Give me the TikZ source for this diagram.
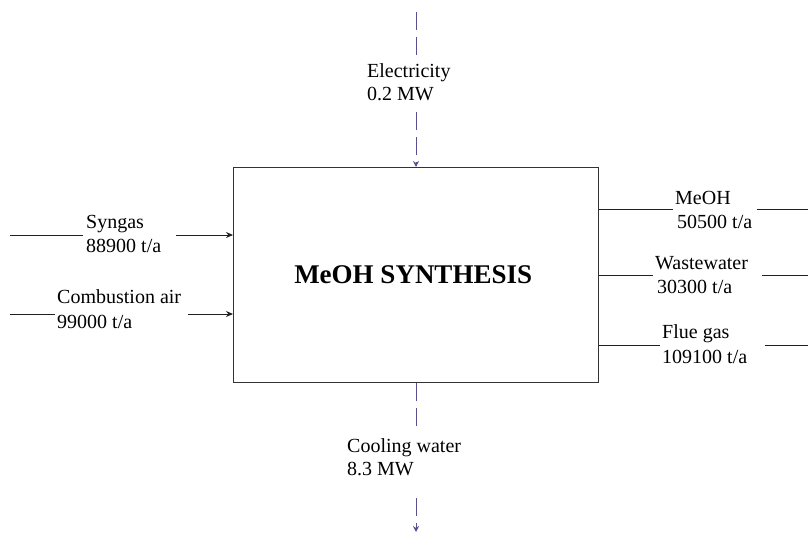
\documentclass[tikz,border=0pt]{standalone}
\usepackage{fontspec}
\setmainfont{Liberation Serif}
\usetikzlibrary{arrows.meta}
\definecolor{dashc}{HTML}{5B4E91}
\definecolor{linec}{HTML}{202020}
\definecolor{boxc}{HTML}{333333}
\tikzset{
  lab/.style={anchor=base west, inner sep=0pt, font=\fontsize{20}{24}\selectfont, text=black},
  flow/.style={draw=linec, line width=1pt},
  arr/.style={flow, -{Stealth[length=7pt,width=6pt]}},
  energy/.style={draw=dashc, line width=1pt, dash pattern=on 18pt off 7pt},
  earr/.style={energy, -{Stealth[length=6pt,width=6pt]}},
  procbox/.style={draw=boxc, line width=1.3pt, fill=white, inner sep=0pt, anchor=north west,
    minimum width=365pt, minimum height=215pt, font=\fontsize{27}{31}\selectfont\bfseries}
}
\begin{document}
\begin{tikzpicture}[x=1pt,y=-1pt]
\useasboundingbox[fill=white] (0,0) rectangle (808,533);
% process box
\node[procbox] (box) at (233,167) {MeOH SYNTHESIS\hspace*{6pt}};
% labels
\node[lab] (syn) at (86,228) {Syngas};
\node[lab] (syn2) at (86,252) {88900 t/a};
\node[lab] (comb) at (57,303) {Combustion air};
\node[lab] (comb2) at (57,328) {99000 t/a};
\node[lab] (meoh) at (675,204) {MeOH};
\node[lab] (meoh2) at (677,228) {50500 t/a};
\node[lab] (ww) at (655,269) {Wastewater};
\node[lab] (ww2) at (657,293) {30300 t/a};
\node[lab] (flue) at (662,338) {Flue gas};
\node[lab] (flue2) at (662,363) {109100 t/a};
\node[lab] (el) at (367,77) {Electricity};
\node[lab] (el2) at (367,100) {0.2 MW};
\node[lab] (cw) at (347,452) {Cooling water};
\node[lab] (cw2) at (347,475) {8.3 MW};
% coordinates for inputs
\coordinate (synA) at (10,235);  \coordinate (synB) at (83,235);  \coordinate (synC) at (176,235);
\coordinate (combA) at (10,314); \coordinate (combB) at (55,314); \coordinate (combC) at (188,314);
% outputs
\coordinate (meohB) at (673,209); \coordinate (meohC) at (757,209); \coordinate (meohD) at (808,209);
\coordinate (wwB) at (653,275);   \coordinate (wwC) at (762,275);   \coordinate (wwD) at (808,275);
\coordinate (flueB) at (660,345); \coordinate (flueC) at (765,345); \coordinate (flueD) at (808,345);
% energy
\coordinate (elA) at (416,12);  \coordinate (elB) at (416,58);  \coordinate (elC) at (416,112);
\coordinate (cwB) at (416,430); \coordinate (cwC) at (416,498); \coordinate (cwD) at (416,532);
% input flows
\draw[flow] (synA) -- (synB);
\draw[arr] (synC) -- (synC -| box.west);
\draw[flow] (combA) -- (combB);
\draw[arr] (combC) -- (combC -| box.west);
% output flows
\draw[flow] (meohB -| box.east) -- (meohB);
\draw[flow] (meohC) -- (meohD);
\draw[flow] (wwB -| box.east) -- (wwB);
\draw[flow] (wwC) -- (wwD);
\draw[flow] (flueB -| box.east) -- (flueB);
\draw[flow] (flueC) -- (flueD);
% energy flows
\draw[energy] (elA) -- (elB);
\draw[earr] (elC) -- (elC |- box.north);
\draw[energy] (cwB |- box.south) -- (cwB);
\draw[earr] (cwC) -- (cwD);
\end{tikzpicture}
\end{document}
